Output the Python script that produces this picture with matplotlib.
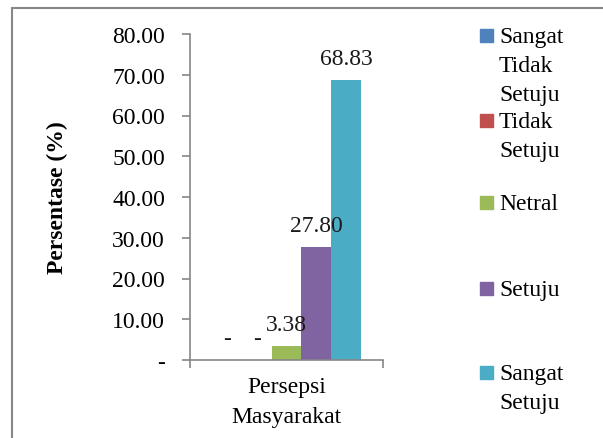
import matplotlib.pyplot as plt
from matplotlib.patches import Rectangle

# data
category = 'Persepsi\nMasyarakat'
series = ['Sangat\nTidak\nSetuju', 'Tidak\nSetuju', 'Netral', 'Setuju', 'Sangat\nSetuju']
values = [0.0, 0.0, 3.38, 27.80, 68.83]
colors = ['#4F81BD', '#C0504D', '#9BBB59', '#8064A2', '#4BACC6']
yticks = [0, 10, 20, 30, 40, 50, 60, 70, 80]

plt.rcParams['font.family'] = ['Liberation Serif', 'DejaVu Serif']
FS = 17

W, H = 603, 439
fig = plt.figure(figsize=(W / 100, H / 100), dpi=100)
ax = fig.add_axes([190 / W, 1 - 361 / H, 193 / W, 326 / H])

# bars, grouped around the single category
width = 0.155
for i, (name, v, c) in enumerate(zip(series, values, colors)):
    x = (i - 2) * width
    ax.bar(x, v, width=width, color=c, label=name)
    txt = '-' if v == 0 else f'{v:.2f}'
    ax.annotate(txt, (x, v), xytext=(0, 11.5), textcoords='offset points',
                ha='center', va='baseline', fontsize=FS, color='#1a1a1a')

ax.set_xlim(-0.5, 0.5)
ax.set_ylim(0, 80)
ax.set_yticks(yticks)
ax.set_yticklabels(['-' if t == 0 else f'{t:.2f}' for t in yticks], fontsize=FS)
ax.set_xticks([-0.5, 0.5])
ax.set_xticklabels(['', ''])
ax.text(0.5, -0.05, category, transform=ax.transAxes, ha='center', va='top',
        fontsize=FS, linespacing=1.55)
ax.tick_params(axis='y', length=6, width=1.2, color='#868686', pad=12)
ax.tick_params(axis='x', length=6, width=1.2, color='#868686')
for s in ['top', 'right']:
    ax.spines[s].set_visible(False)
for s in ['left', 'bottom']:
    ax.spines[s].set_color('#868686')
    ax.spines[s].set_linewidth(1.2)

ax.set_ylabel('Persentase (%)', fontsize=FS, fontweight='bold', va='center')
ax.yaxis.set_label_coords((57 - 190) / 193, 0.5)

# legend drawn by hand so the squares line up with the first text line
leg_top = [30, 115, 197, 283, 367]
for name, c, top in zip(series, colors, leg_top):
    fig.patches.append(Rectangle((480 / W, 1 - (top + 13) / H), 13 / W, 13 / H,
                                 transform=fig.transFigure, color=c))
    fig.text(499 / W, 1 - (top - 3) / H, name, ha='left', va='top',
             fontsize=FS, linespacing=1.5, family=['Liberation Serif'])

# chart border
fig.patches.append(Rectangle((12 / W, -0.1), 1.2, 1 - 9 / H + 0.1,
                             transform=fig.transFigure, fill=False,
                             edgecolor='#888888', linewidth=1.5))

fig.savefig('out.png', dpi=100)
